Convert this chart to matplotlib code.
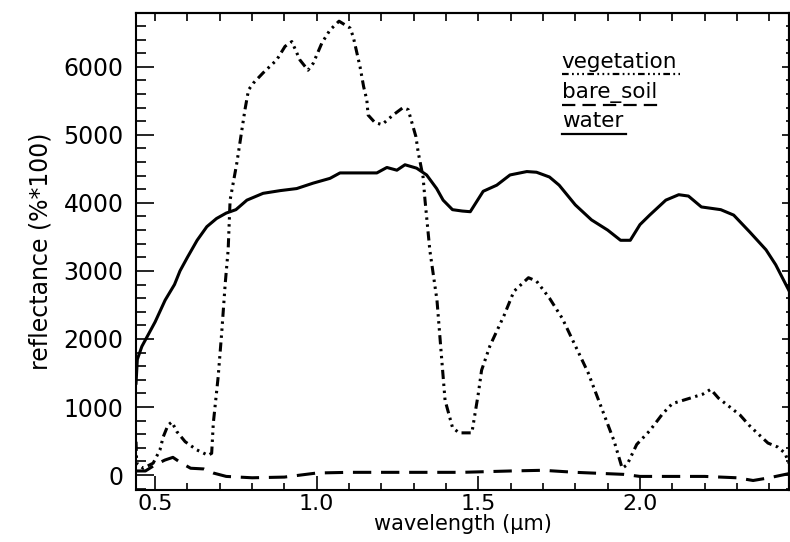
import matplotlib
matplotlib.use("Agg")
import matplotlib.pyplot as plt
from matplotlib.ticker import MultipleLocator

# reflectance curves (wavelength in um, reflectance in %*100)
veg_wl = [0.441, 0.443, 0.463, 0.494, 0.515, 0.525, 0.540, 0.552, 0.567, 0.593,
          0.629, 0.664, 0.675, 0.680, 0.695, 0.706, 0.717, 0.726, 0.732, 0.753,
          0.778, 0.789, 0.804, 0.834, 0.876, 0.902, 0.923, 0.948, 0.973, 0.989,
          1.016, 1.041, 1.069, 1.103, 1.113, 1.134, 1.145, 1.155, 1.159, 1.180,
          1.202, 1.236, 1.267, 1.283, 1.298, 1.307, 1.314, 1.329, 1.335, 1.350,
          1.372, 1.385, 1.397, 1.420, 1.440, 1.480, 1.500, 1.510, 1.536, 1.580,
          1.610, 1.655, 1.680, 1.720, 1.760, 1.800, 1.840, 1.880, 1.920, 1.945,
          1.960, 1.990, 2.030, 2.070, 2.100, 2.155, 2.195, 2.219, 2.243, 2.270,
          2.310, 2.337, 2.360, 2.396, 2.427, 2.449, 2.460]
veg_refl = [490, 175, 100, 175, 370, 560, 735, 780, 640, 490,
            370, 290, 320, 760, 1440, 2090, 2820, 3310, 4040, 4590,
            5370, 5660, 5760, 5910, 6100, 6300, 6370, 6100, 5950, 6050,
            6350, 6540, 6670, 6570, 6440, 6000, 5710, 5510, 5290, 5180,
            5150, 5290, 5400, 5370, 5120, 4970, 4740, 4380, 4040, 3300,
            2570, 1800, 1100, 700, 620, 620, 1200, 1540, 1900, 2350,
            2700, 2900, 2850, 2600, 2300, 1900, 1500, 1000, 500, 100,
            150, 450, 650, 900, 1050, 1130, 1190, 1260, 1130, 1030,
            880, 735, 630, 470, 410, 320, 176]

soil_wl = [0.441, 0.445, 0.459, 0.500, 0.531, 0.560, 0.577, 0.600, 0.630, 0.660,
           0.690, 0.720, 0.750, 0.784, 0.834, 0.887, 0.938, 0.989, 1.041, 1.072,
           1.186, 1.217, 1.248, 1.273, 1.309, 1.340, 1.371, 1.391, 1.420, 1.450,
           1.475, 1.515, 1.557, 1.598, 1.650, 1.680, 1.720, 1.750, 1.800, 1.850,
           1.900, 1.940, 1.970, 2.000, 2.030, 2.080, 2.120, 2.150, 2.190, 2.250,
           2.290, 2.340, 2.390, 2.420, 2.460]
soil_refl = [1350, 1700, 1890, 2250, 2570, 2800, 3000, 3200, 3450, 3650,
             3770, 3850, 3900, 4040, 4140, 4180, 4210, 4290, 4360, 4440,
             4440, 4520, 4480, 4560, 4510, 4410, 4210, 4040, 3900, 3880,
             3870, 4170, 4260, 4410, 4460, 4450, 4380, 4260, 3970, 3750,
             3600, 3450, 3450, 3680, 3820, 4040, 4120, 4100, 3940, 3900,
             3820, 3570, 3310, 3090, 2720]

water_wl = [0.441, 0.470, 0.500, 0.530, 0.555, 0.580, 0.610, 0.650, 0.680, 0.720,
            0.800, 0.900, 0.950, 1.000, 1.100, 1.300, 1.450, 1.600, 1.700, 1.800,
            1.900, 1.950, 2.000, 2.100, 2.200, 2.300, 2.350, 2.400, 2.460]
water_refl = [60, 60, 150, 220, 260, 180, 100, 90, 30, -20,
              -40, -30, 0, 30, 40, 40, 40, 60, 70, 40,
              20, 10, -20, -20, -20, -40, -80, -40, 20]

legend_names = ['vegetation', 'bare_soil', 'water']

plt.rcParams['font.family'] = ['DejaVu Sans']

dash3dot = (0, (3.0, 1.5, 0.8, 1.5, 0.8, 1.5, 0.8, 1.5))
dashed = (0, (6, 3.2))

fig = plt.figure(figsize=(7.9, 5.42), dpi=100)
ax = fig.add_axes([0.1722, 0.0959, 0.8265, 0.8801])

ax.plot(veg_wl, veg_refl, color='black', lw=2.2, linestyle=dash3dot)
ax.plot(soil_wl, soil_refl, color='black', lw=2.2, linestyle='-')
ax.plot(water_wl, water_refl, color='black', lw=2.2, linestyle=dashed)

ax.set_xlim(0.441, 2.461)
ax.set_ylim(-220, 6790)

ax.xaxis.set_major_locator(MultipleLocator(0.5))
ax.xaxis.set_minor_locator(MultipleLocator(0.1))
ax.yaxis.set_major_locator(MultipleLocator(1000))
ax.yaxis.set_minor_locator(MultipleLocator(200))
ax.xaxis.set_major_formatter(lambda v, p: f'{v:.1f}')
ax.yaxis.set_major_formatter(lambda v, p: f'{v:.0f}')

ax.tick_params(axis='x', which='major', direction='in', length=10, width=1.2,
               labelsize=16, pad=3, top=False)
ax.tick_params(axis='x', which='minor', direction='in', length=5, width=1.2, top=False)
ax.tick_params(axis='y', which='major', direction='in', length=13, width=1.2,
               labelsize=17, pad=9, right=False)
ax.tick_params(axis='y', which='minor', direction='in', length=7, width=1.2, right=False)

# top and right axes carry their own shorter ticks
top = ax.secondary_xaxis('top')
top.xaxis.set_major_locator(MultipleLocator(0.1))
top.tick_params(which='both', direction='in', length=6, width=1.2, labeltop=False)
right = ax.secondary_yaxis('right')
right.yaxis.set_major_locator(MultipleLocator(1000))
right.yaxis.set_minor_locator(MultipleLocator(200))
right.tick_params(which='major', direction='in', length=5, width=1.2, labelright=False)
right.tick_params(which='minor', direction='in', length=2, width=1.2)

for s in list(ax.spines.values()) + [top.spines['top'], right.spines['right']]:
    s.set_linewidth(1.5)

ax.set_xlabel('wavelength (\u03bcm)', fontsize=15, labelpad=0)
ax.set_ylabel('reflectance (%*100)', fontsize=17, labelpad=8)

# legend: names underlined with the line style of each curve
label_y = [0.8847, 0.8218, 0.761]
line_y = [0.872, 0.807, 0.7463]
line_end = [0.8325, 0.799, 0.750]
line_styles = [dash3dot, dashed, '-']
for name, ty, uy, xe, ls in zip(legend_names, label_y, line_y, line_end, line_styles):
    ax.text(0.652, ty, name, transform=ax.transAxes, fontsize=15.5,
            ha='left', va='baseline')
    ax.plot([0.652, xe], [uy, uy], transform=ax.transAxes, color='black',
            lw=1.6, linestyle=ls, clip_on=False)

fig.savefig('out.png', dpi=100)
